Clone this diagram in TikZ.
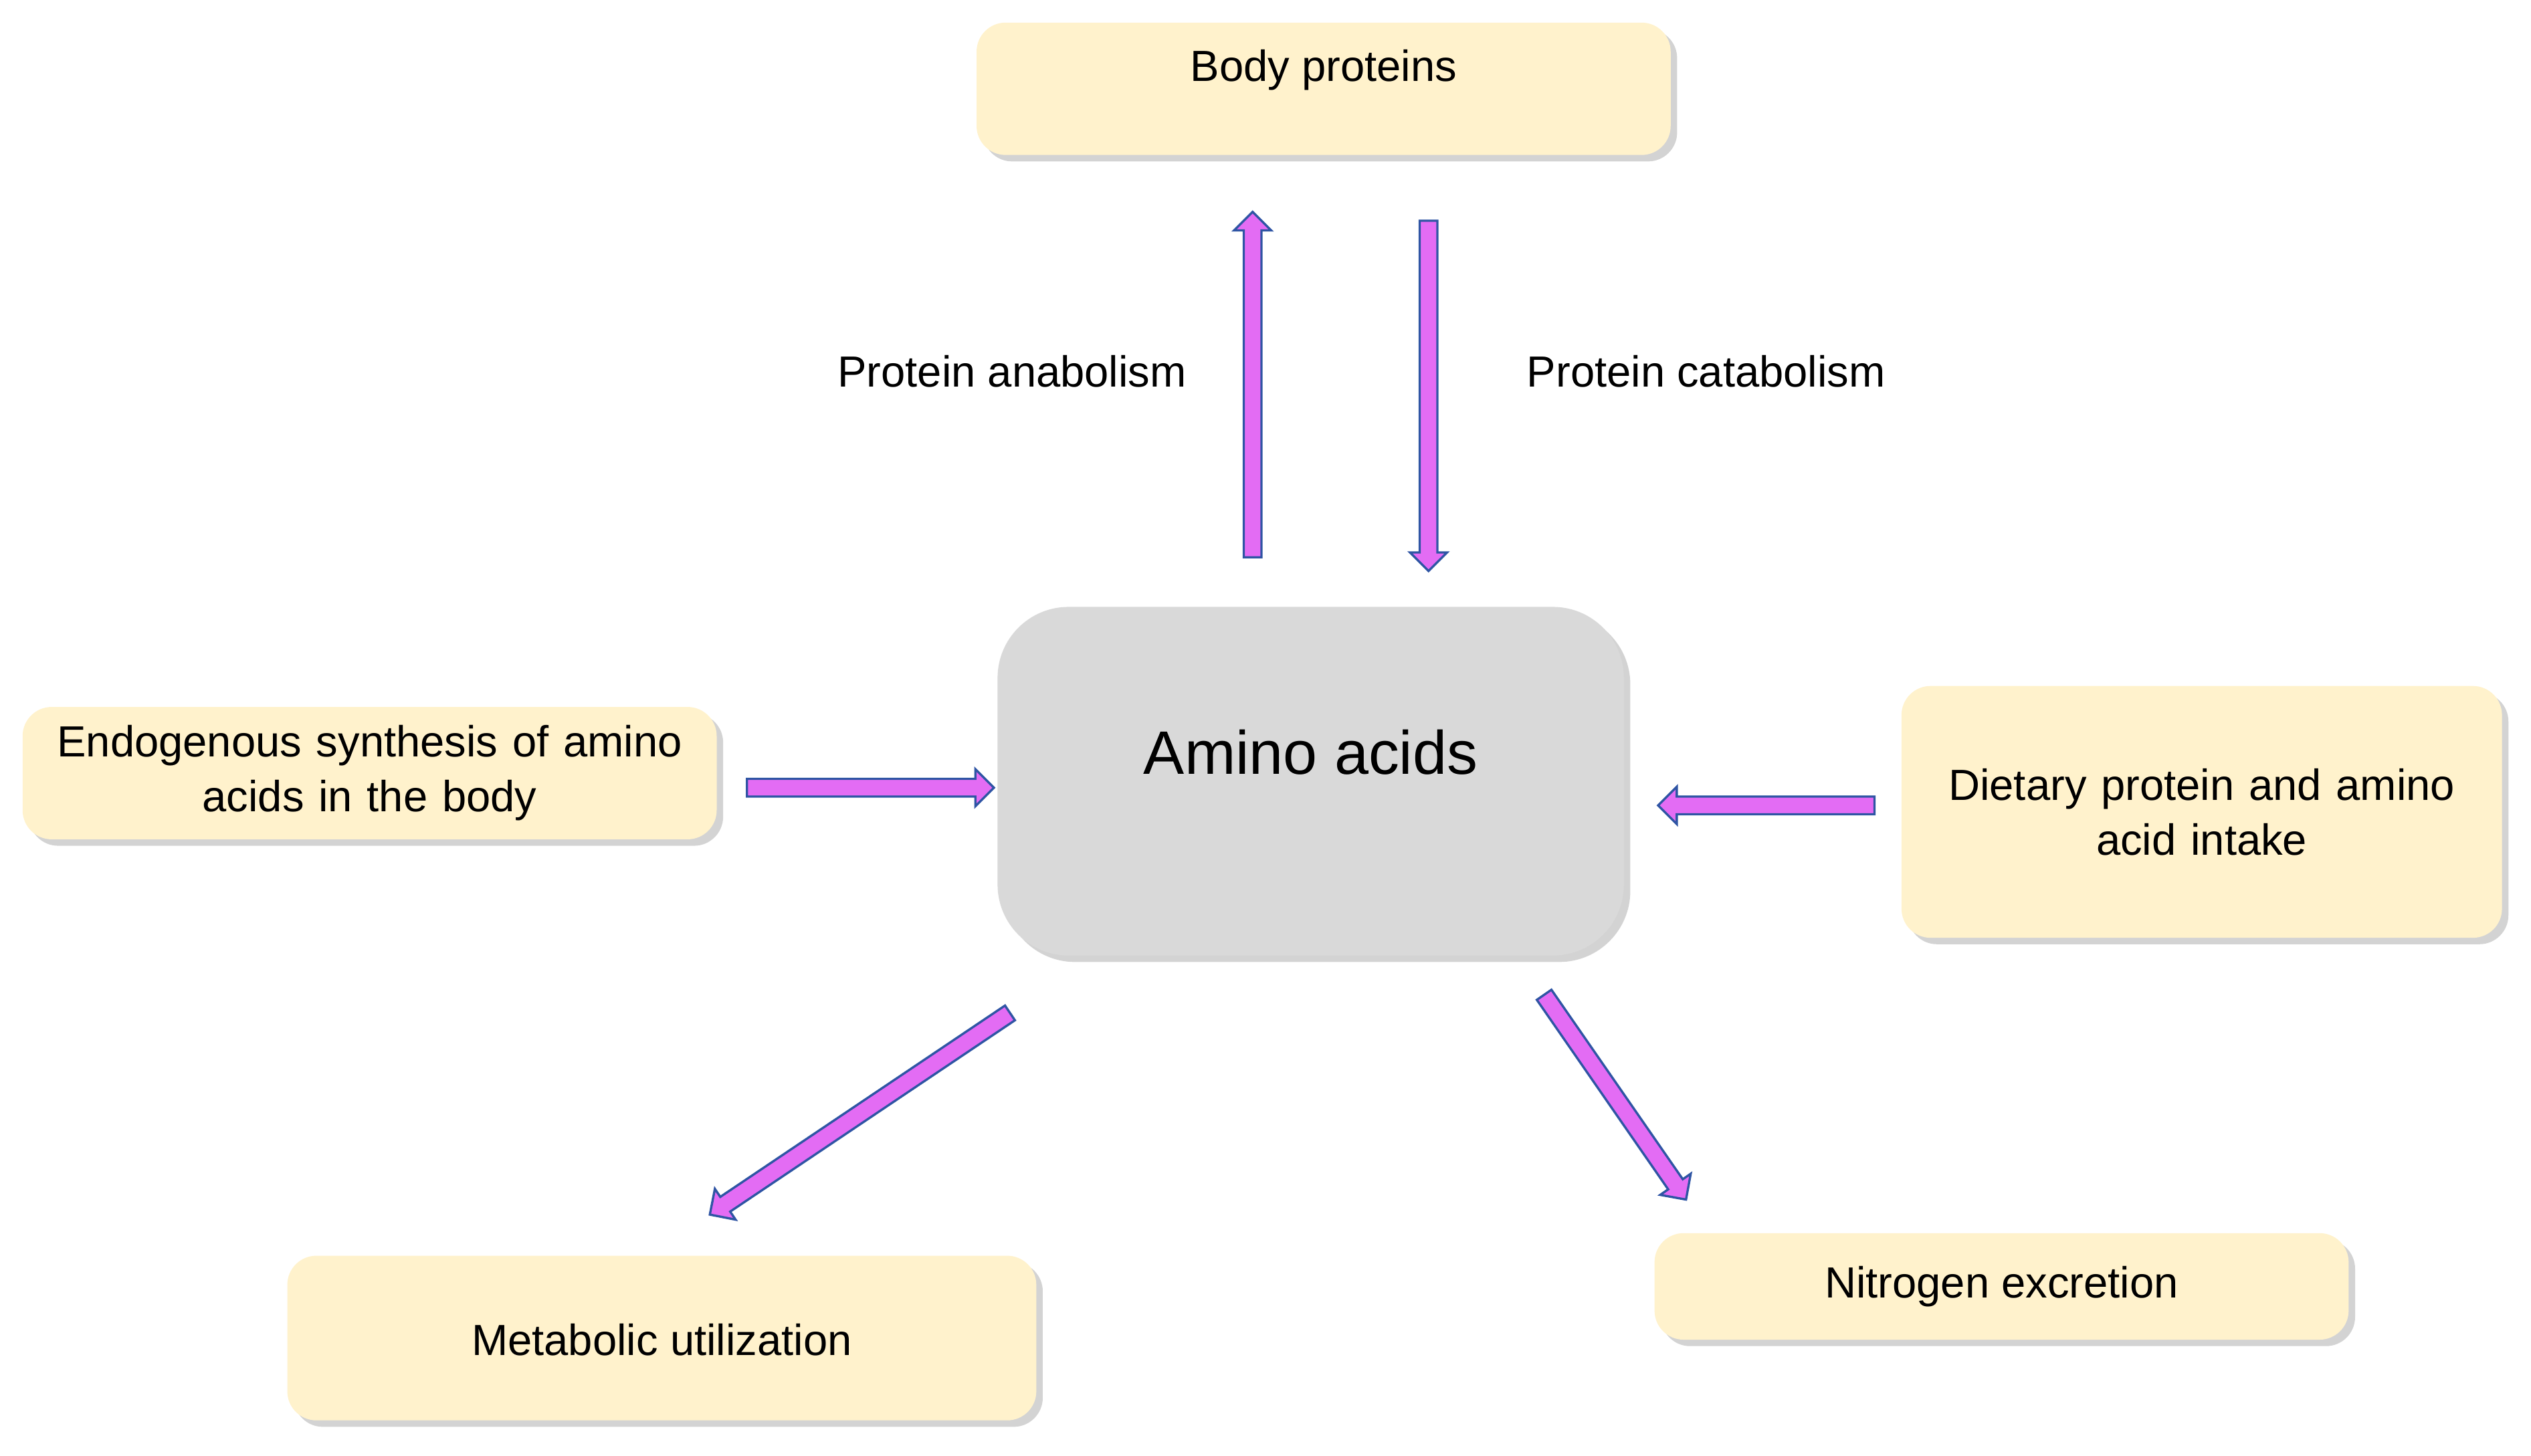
\documentclass[tikz,border=0pt]{standalone}
\usepackage{fontspec}
\setmainfont{Liberation Sans}
\usetikzlibrary{positioning,shapes.arrows,shadows,calc}
\definecolor{boxfill}{HTML}{FFF2CC}
\definecolor{hubfill}{HTML}{D9D9D9}
\definecolor{arrowfill}{HTML}{E36CF4}
\definecolor{arrowline}{HTML}{2F55A4}
\tikzset{
  pool/.style={rounded corners=9pt, fill=boxfill, inner sep=0pt, align=center,
    font=\fontsize{13.5}{17}\selectfont, drop shadow={opacity=0.35, shadow xshift=2pt, shadow yshift=-2pt}},
  hub/.style={pool, fill=hubfill, rounded corners=22pt, font=\fontsize{19}{22}\selectfont},
  fatarrow/.style={single arrow, draw=arrowline, fill=arrowfill, line width=0.7pt,
    inner xsep=0pt, inner ysep=2.4pt, single arrow head extend=3pt,
    single arrow head indent=0pt, anchor=center},
  lbl/.style={font=\fontsize{13.5}{16}\selectfont}
}
\newcommand{\flux}[2]{%
  \path let \p1=($(#2)-(#1)$), \n1={veclen(\x1,\y1)}, \n2={atan2(\y1,\x1)} in
    node[fatarrow, minimum height=\n1, rotate=\n2] at ($(#1)!0.5!(#2)$) {};}
\begin{document}
\begin{tikzpicture}[x=0.5pt,y=-0.5pt]
\useasboundingbox (0,0) rectangle (1568,902);
% pools
\node[hub, minimum width=194pt, minimum height=108pt] (amino) at (812,484) {Amino acids\\[-4pt]};
\node[pool, minimum width=215pt, minimum height=41pt,
  label={[lbl, anchor=north, yshift=-5pt]north:Body proteins}] (body) at (820,55) {};
\node[pool, minimum width=215pt, minimum height=41pt, text width=206pt] (endo) at (229,479)
  {Endogenous synthesis of amino\\acids in the body};
\node[pool, minimum width=186pt, minimum height=78pt, text width=176pt] (diet) at (1364,503)
  {Dietary protein and amino\\acid intake\\[4pt]};
\node[pool, minimum width=232pt, minimum height=51pt] (metab) at (410,829) {\\[-6pt]Metabolic utilization};
\node[pool, minimum width=215pt, minimum height=33pt] (nitro) at (1240,797) {Nitrogen excretion};
% flux ends
\coordinate (upA) at (776,348);  \coordinate (upB) at (776,134);
\coordinate (dnA) at (885,134);  \coordinate (dnB) at (885,351);
\coordinate (inA) at (460,488);  \coordinate (inB) at (613,488);
\coordinate (diA) at (1164,499); \coordinate (diB) at (1030,499);
\coordinate (meA) at (628,626);  \coordinate (meB) at (442,751);
\coordinate (niA) at (955,614);  \coordinate (niB) at (1043,741);
\flux{upA}{upB}
\flux{dnA}{dnB}
\flux{inA}{inB}
\flux{diA}{diB}
\flux{meA}{meB}
\flux{niA}{niB}
% labels
\node[lbl] (anab) at (627,230) {Protein anabolism};
\node[lbl] (catab) at (1057,230) {Protein catabolism};
\end{tikzpicture}
\end{document}
